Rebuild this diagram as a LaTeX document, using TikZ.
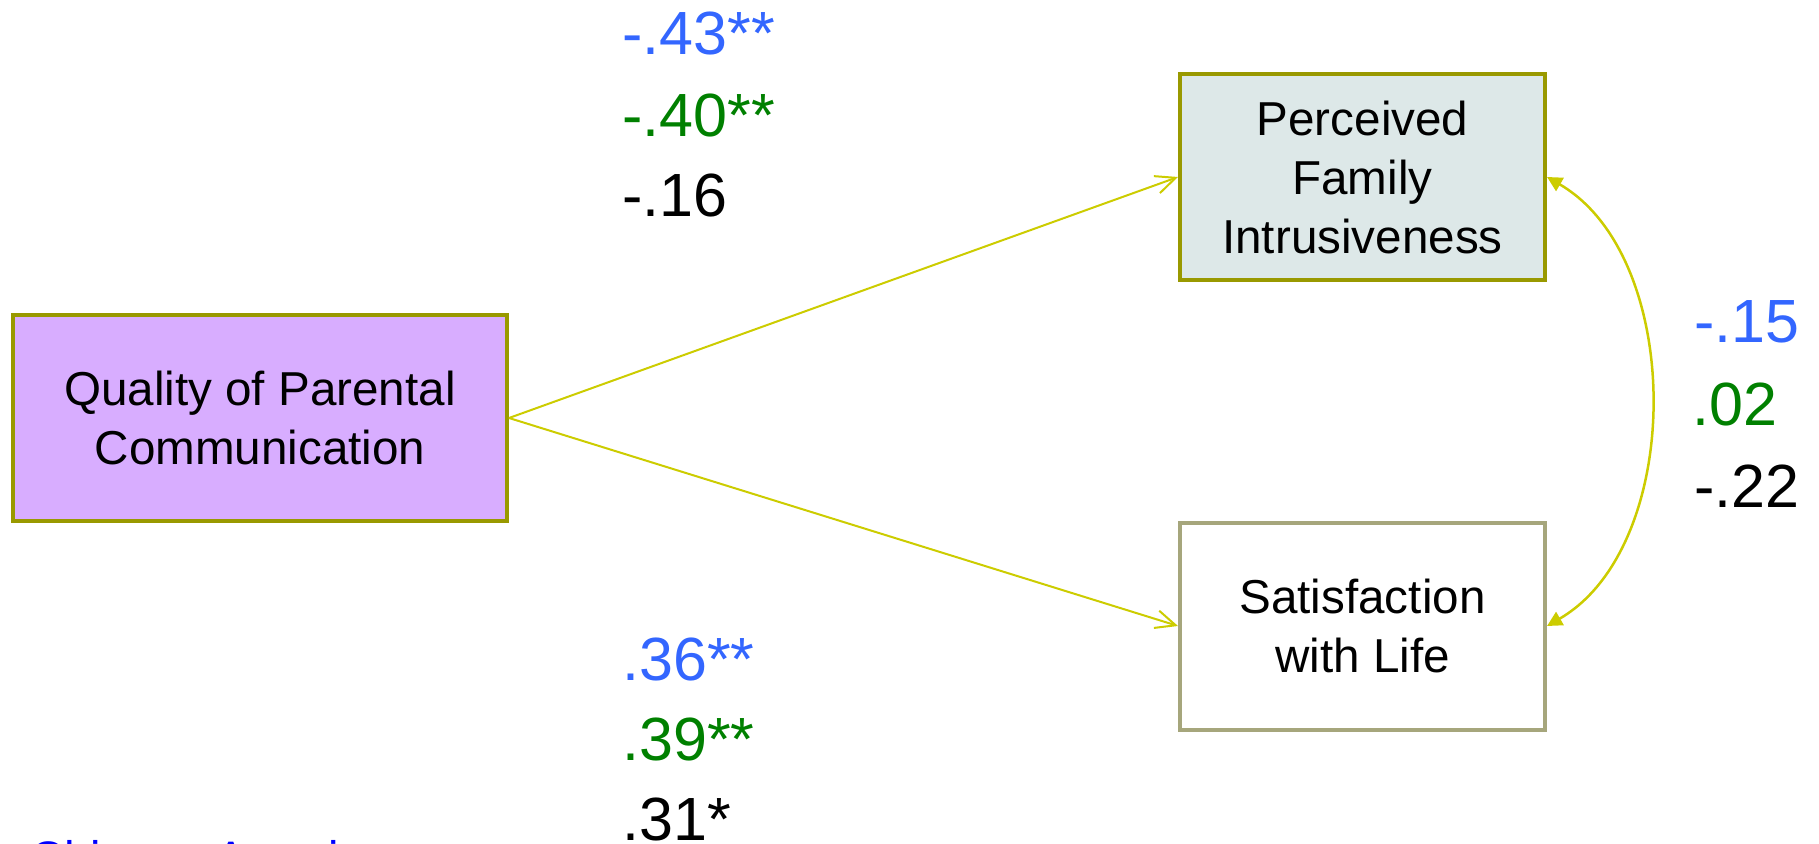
\documentclass[tikz,border=0pt]{standalone}
\usepackage{fontspec}
\setmainfont{Liberation Sans}
\usetikzlibrary{arrows.meta}

\definecolor{boxolive}{RGB}{153,153,0}
\definecolor{boxkhaki}{RGB}{166,166,124}
\definecolor{lavender}{RGB}{216,173,255}
\definecolor{paleteal}{RGB}{221,232,232}
\definecolor{pathyellow}{RGB}{204,204,0}
\definecolor{coefblue}{RGB}{51,102,255}
\definecolor{coefgreen}{RGB}{0,128,0}
\definecolor{legendblue}{RGB}{0,0,255}

\tikzset{
  varbox/.style={draw, line width=2pt, inner sep=0pt, align=center,
    font=\fontsize{23.8}{29.5}\selectfont},
  coef/.style={anchor=base west, inner sep=0pt,
    font=\fontsize{30.5}{36}\selectfont},
  legend/.style={anchor=base west, inner sep=0pt,
    font=\fontsize{23.5}{29.5}\selectfont},
  regpath/.style={draw=pathyellow, line width=1pt,
    -{Straight Barb[length=10pt,width=9pt]}},
  covar/.style={draw=pathyellow, line width=1.25pt,
    {Triangle[length=7.5pt,width=7.5pt]}-{Triangle[length=7.5pt,width=7.5pt]}}
}

\begin{document}
\begin{tikzpicture}[x=0.5pt,y=-0.5pt]
\useasboundingbox (0,0) rectangle (1819,844);

% variables
\node[varbox, fill=lavender, draw=boxolive, minimum width=247pt,
      minimum height=102.75pt] (qpc) at (260,418)
      {Quality of Parental\\Communication};
\node[varbox, fill=paleteal, draw=boxolive, minimum width=182.5pt,
      minimum height=103pt] (pfi) at (1362.5,177)
      {Perceived\\Family\\Intrusiveness};
\node[varbox, fill=white, draw=boxkhaki, minimum width=182.5pt,
      minimum height=103.5pt] (swl) at (1362.5,626)
      {Satisfaction\\with Life};

% paths
\draw[regpath] (qpc.east) -- (pfi.west);
\draw[regpath] (qpc.east) -- (swl.west);
\draw[covar] (pfi.east) .. controls +(138,80) and +(138,-80) .. (swl.east);

% coefficients: upper path
\node[coef, text=coefblue]  (t1) at (622,55)  {-.43**};
\node[coef, text=coefgreen] (t2) at (622,137) {-.40**};
\node[coef, text=black]     (t3) at (622,217) {-.16};

% coefficients: lower path
\node[coef, text=coefblue]  (b1) at (622,680) {.36**};
\node[coef, text=coefgreen] (b2) at (622,760) {.39**};
\node[coef, text=black]     (b3) at (622,840) {.31*};

% coefficients: residual covariance
\node[coef, text=coefblue]  (r1) at (1694,343) {-.15};
\node[coef, text=coefgreen] (r2) at (1692,425) {.02};
\node[coef, text=black]     (r3) at (1694,507) {-.22};

% group legend
\node[legend, text=legendblue] (grp) at (30,874) {Chinese Americans};
\end{tikzpicture}
\end{document}
